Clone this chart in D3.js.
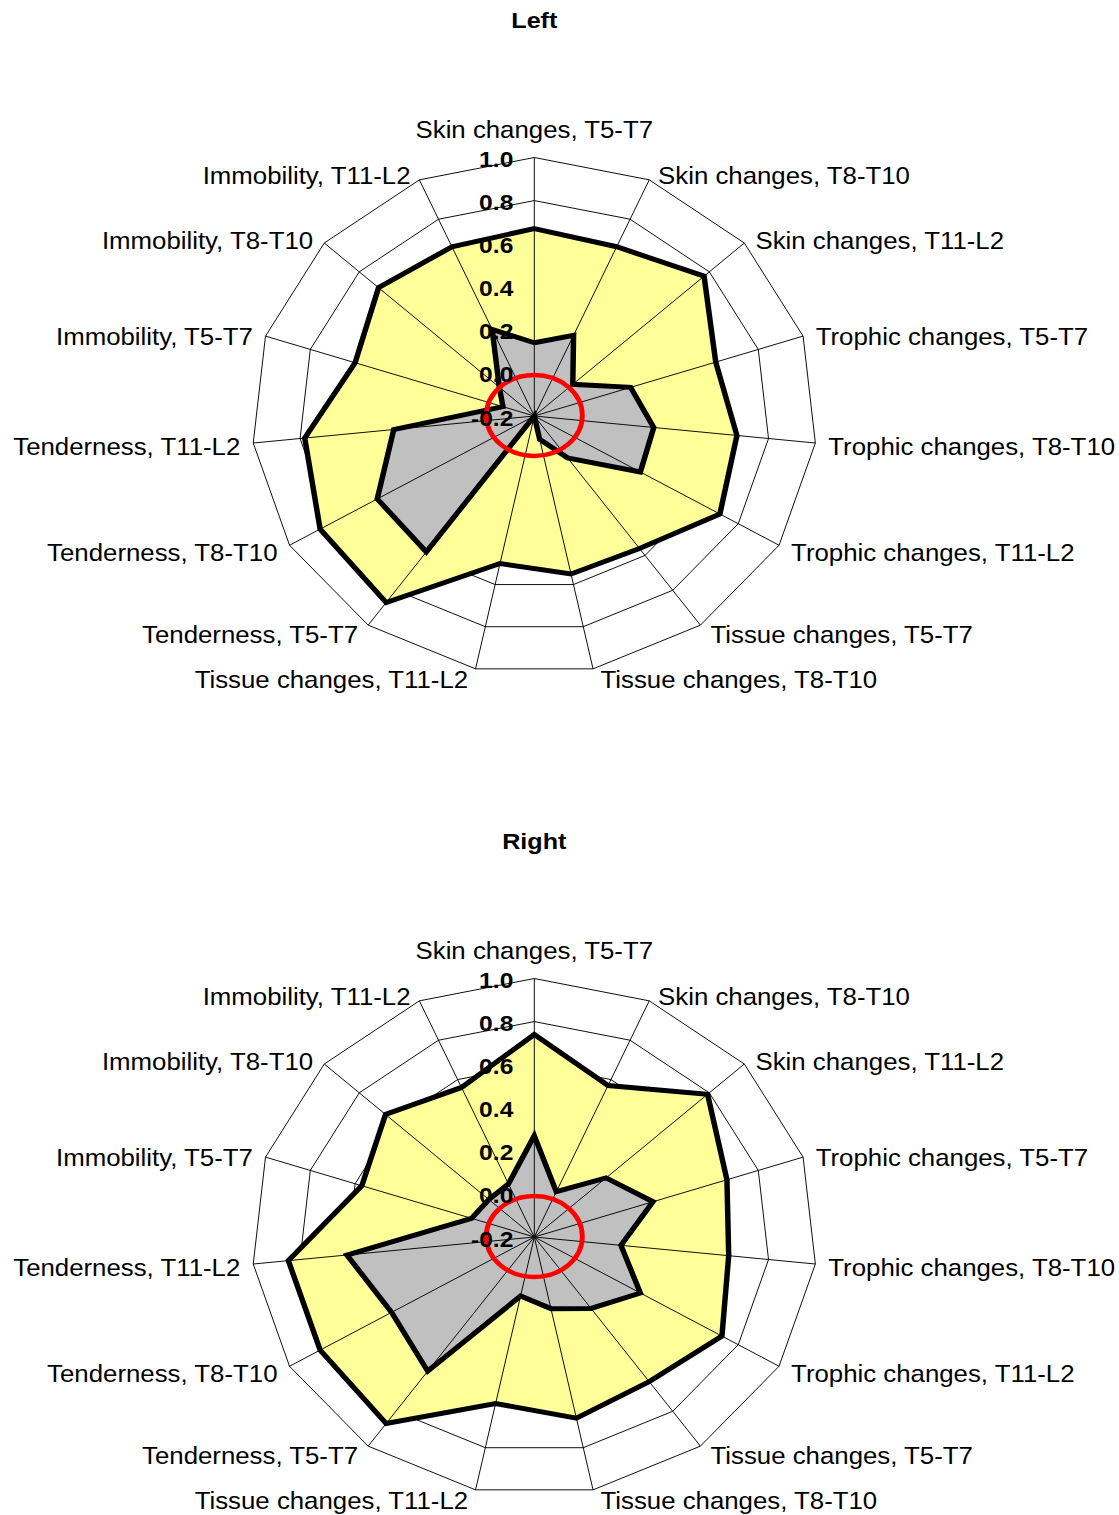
<!DOCTYPE html>
<html>
<head>
<meta charset="utf-8">
<script src="https://cdn.jsdelivr.net/npm/d3@7"></script>
<style>
    body { margin: 0; background: #fff; }
    svg { display: block; font-family: "Liberation Sans", Arial, sans-serif; }
</style>
</head>
<body>
<div id="radar"></div>
<script>
// categories, clockwise from the top
const categories = [
    "Skin changes, T5-T7", "Skin changes, T8-T10", "Skin changes, T11-L2",
    "Trophic changes, T5-T7", "Trophic changes, T8-T10", "Trophic changes, T11-L2",
    "Tissue changes, T5-T7", "Tissue changes, T8-T10", "Tissue changes, T11-L2",
    "Tenderness, T5-T7", "Tenderness, T8-T10", "Tenderness, T11-L2",
    "Immobility, T5-T7", "Immobility, T8-T10", "Immobility, T11-L2"
];
const tickValues = [-0.2, 0.0, 0.2, 0.4, 0.6, 0.8, 1.0];
const zeroMark = 0.0;

const leftUpper = [0.67, 0.66, 0.77, 0.61, 0.665, 0.71, 0.56, 0.55, 0.50, 0.87, 0.85, 0.78, 0.60, 0.69, 0.66];
const leftLower = [0.14, 0.21, 0.02, 0.23, 0.31, 0.32, 0.04, -0.09, -0.2, 0.58, 0.57, 0.40, -0.06, 0.0, 0.24];
const rightUpper = [0.74, 0.57, 0.79, 0.66, 0.63, 0.72, 0.63, 0.66, 0.59, 0.87, 0.85, 0.85, 0.57, 0.65, 0.56];
const rightLower = [0.27, 0.03, 0.21, 0.33, 0.17, 0.32, 0.21, 0.14, 0.08, 0.57, 0.50, 0.60, 0.08, 0.06, 0.07];

const titles = ["Left", "Right"];

const width = 1119, height = 1515;
const R = 258.5;
const sx = 1.0933;   // picture is stretched sideways
const cx = 534.3;
const centersY = [416, 1237];

const svg = d3.select("#radar").append("svg")
    .attr("width", width)
    .attr("height", height);

const rScale = d3.scaleLinear().domain([-0.2, 1.0]).range([0, R]);
const angle = d3.scaleLinear().domain([0, categories.length]).range([0, 2 * Math.PI]);

function crearRadar(cy, title, upper, lower) {
    const g = svg.append("g")
        .attr("transform", `translate(${cx},${cy}) scale(${sx},1)`);

    g.append("text")
        .attr("x", 0)
        .attr("y", 28 - 416)
        .attr("text-anchor", "middle")
        .style("font-size", "23px")
        .style("font-weight", "bold")
        .text(title);

    const ring = (v) => d3.lineRadial()
        .angle((d, i) => angle(i))
        .radius(() => rScale(v))
        .curve(d3.curveLinearClosed)(categories);

    g.append("g")
        .selectAll("path")
        .data(tickValues.filter(t => t > -0.2))
        .join("path")
        .attr("d", d => ring(d))
        .attr("fill", "none")
        .attr("stroke", "#000")
        .attr("stroke-width", 0.9);

    const series = d3.lineRadial()
        .angle((d, i) => angle(i))
        .radius(d => rScale(d))
        .curve(d3.curveLinearClosed);

    g.append("path")
        .attr("d", series(upper))
        .attr("fill", "#ffff99")
        .attr("stroke", "none");

    g.append("path")
        .attr("d", series(lower))
        .attr("fill", "#c0c0c0")
        .attr("stroke", "none");

    // spokes
    g.append("g")
        .selectAll("line")
        .data(categories)
        .join("line")
        .attr("x1", 0).attr("y1", 0)
        .attr("x2", (d, i) => rScale(1.0) * Math.sin(angle(i)))
        .attr("y2", (d, i) => -rScale(1.0) * Math.cos(angle(i)))
        .attr("stroke", "#000")
        .attr("stroke-width", 0.9);

    g.append("path")
        .attr("d", series(upper))
        .attr("fill", "none")
        .attr("stroke", "#000")
        .attr("stroke-width", 5)
        .attr("stroke-linejoin", "miter");

    g.append("path")
        .attr("d", series(lower))
        .attr("fill", "none")
        .attr("stroke", "#000")
        .attr("stroke-width", 5)
        .attr("stroke-linejoin", "miter");

    g.append("ellipse")
        .attr("cx", 0)
        .attr("cy", -0.5)
        .attr("rx", rScale(zeroMark) * 1.02)
        .attr("ry", rScale(zeroMark) * 0.94)
        .attr("fill", "none")
        .attr("stroke", "#ff0000")
        .attr("stroke-width", 4.4);

    // category labels
    g.append("g")
        .selectAll("text")
        .data(categories)
        .join("text")
        .style("font-size", "23.6px")
        .attr("text-anchor", (d, i) => i === 0 ? "middle" : (Math.sin(angle(i)) > 0 ? "start" : "end"))
        .attr("x", (d, i) => {
            const s = Math.sin(angle(i));
            if (i === 0) return 0;
            const off = (6 + 7 * Math.abs(s)) / sx;
            return R * s + (s > 0 ? off : -off);
        })
        .attr("y", (d, i) => {
            const c = Math.cos(angle(i));
            if (i === 0) return -R - 19.2;
            return -R * c + 3 - 8 * c + 8.4;
        })
        .text(d => d);

    // tick labels
    g.append("g")
        .selectAll("text")
        .data(tickValues)
        .join("text")
        .attr("text-anchor", "end")
        .attr("x", -19.2)
        .attr("y", d => -rScale(d) + 9.5)
        .style("font-size", "22.5px")
        .style("font-weight", "bold")
        .text(d => d3.format(".1f")(d).replace("−", "-"));
}

crearRadar(centersY[0], titles[0], leftUpper, leftLower);
crearRadar(centersY[1], titles[1], rightUpper, rightLower);
</script>
</body>
</html>
